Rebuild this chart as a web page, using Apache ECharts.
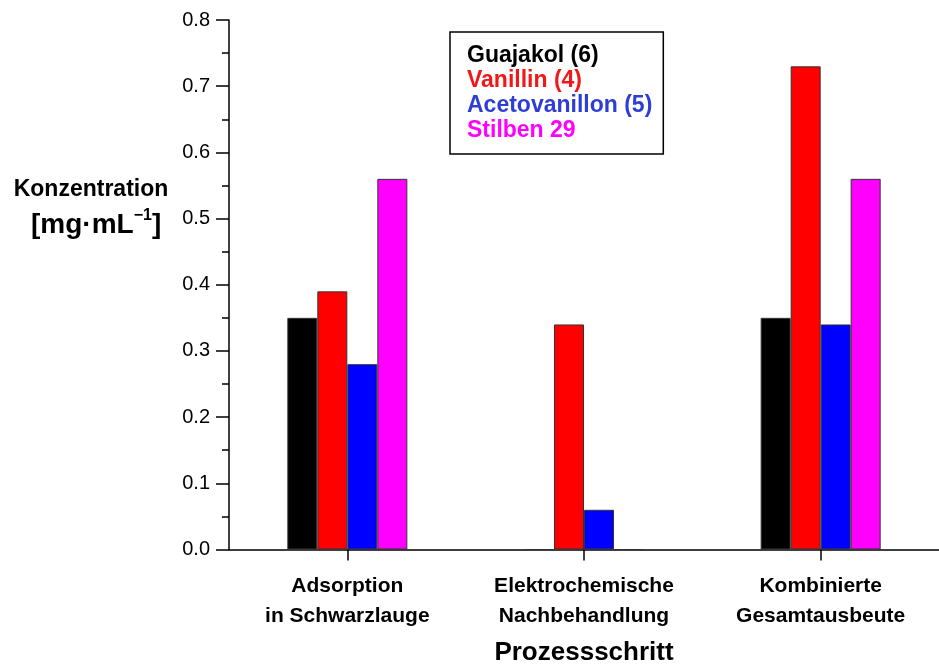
<!DOCTYPE html>
<html>
<head>
<meta charset="utf-8">
<script src="https://cdn.jsdelivr.net/npm/echarts@6/dist/echarts.min.js"></script>
<style>
  html, body { margin: 0; padding: 0; background: #fff; }
  #chart { width: 939px; height: 666px; }
</style>
</head>
<body>
<div id="chart"></div>
<script>
// Process steps on the x axis
const categories = ['Adsorption\nin Schwarzlauge', 'Elektrochemische\nNachbehandlung', 'Kombinierte\nGesamtausbeute'];

// Concentration per compound and step, mg/mL
const guajakol = [0.35, 0, 0.35];
const vanillin = [0.39, 0.34, 0.73];
const acetovanillon = [0.28, 0.06, 0.34];
const stilben = [0.56, 0, 0.56];

const seriesNames = ['Guajakol (6)', 'Vanillin (4)', 'Acetovanillon (5)', 'Stilben 29'];
const barColors = ['#000000', '#ff0000', '#0000ff', '#ff00ff'];
const legendColors = ['#000000', '#f01818', '#2d3dd6', '#ff00ff'];

const yTicks = { min: 0, max: 0.8, interval: 0.1 };

const font = 'Liberation Sans, Arial, sans-serif';
const chart = echarts.init(document.getElementById('chart'), null, { renderer: 'canvas' });

const seriesData = [guajakol, vanillin, acetovanillon, stilben];

chart.setOption({
  animation: false,
  backgroundColor: '#ffffff',
  grid: { left: 229, top: 20, width: 719, height: 529.5, containLabel: false },
  legend: {
    orient: 'vertical',
    left: 450,
    top: 32,
    selectedMode: false,
    icon: 'none',
    itemWidth: 0,
    itemHeight: 10,
    itemGap: 2,
    padding: [12, 11, 12, 12],
    borderColor: '#000',
    borderWidth: 1.5,
    backgroundColor: '#fff',
    data: seriesNames.map((n, i) => ({
      name: n,
      textStyle: { color: legendColors[i] }
    })),
    textStyle: { fontFamily: font, fontWeight: 'bold', fontSize: 23, lineHeight: 23 }
  },
  xAxis: {
    type: 'category',
    data: categories,
    boundaryGap: true,
    axisLine: { lineStyle: { color: '#000', width: 1.5 } },
    axisTick: { show: true, alignWithLabel: true, inside: false, length: 11, lineStyle: { color: '#000', width: 1.5 } },
    axisLabel: {
      margin: 22,
      color: '#000',
      fontFamily: font,
      fontWeight: 'bold',
      fontSize: 21,
      lineHeight: 30
    },
    splitLine: { show: false }
  },
  yAxis: {
    type: 'value',
    min: yTicks.min,
    max: yTicks.max,
    interval: yTicks.interval,
    axisLine: { show: true, lineStyle: { color: '#000', width: 1.5 } },
    axisTick: { show: true, inside: false, length: 13, lineStyle: { color: '#000', width: 1.5 } },
    minorTick: { show: true, splitNumber: 2, length: 7, lineStyle: { color: '#000', width: 1.5 } },
    axisLabel: {
      margin: 19,
      color: '#000',
      fontFamily: font,
      fontSize: 20,
      formatter: v => v.toFixed(1)
    },
    splitLine: { show: false }
  },
  series: seriesNames.map((name, i) => ({
    name: name,
    type: 'bar',
    data: seriesData[i],
    barWidth: 30,
    barGap: '0%',
    itemStyle: { color: barColors[i], borderColor: '#333', borderWidth: 1 }
  })),
  graphic: [
    {
      type: 'text',
      x: 91,
      y: 190,
      style: {
        text: 'Konzentration',
        fill: '#000',
        font: 'bold 23px ' + font,
        align: 'center',
        verticalAlign: 'middle'
      }
    },
    {
      type: 'text',
      left: 31,
      top: 208,
      style: {
        text: '{a|[mg·mL}{s|−1}{a|]}',
        fill: '#000',
        rich: {
          a: { fontFamily: font, fontWeight: 'bold', fontSize: 28, lineHeight: 35, fill: '#000' },
          s: { fontFamily: font, fontWeight: 'bold', fontSize: 16, lineHeight: 35, verticalAlign: 'top', fill: '#000' }
        }
      }
    },
    {
      type: 'text',
      x: 584,
      y: 653,
      style: {
        text: 'Prozessschritt',
        fill: '#000',
        font: 'bold 26px ' + font,
        align: 'center',
        verticalAlign: 'middle'
      }
    }
  ]
});
</script>
</body>
</html>
